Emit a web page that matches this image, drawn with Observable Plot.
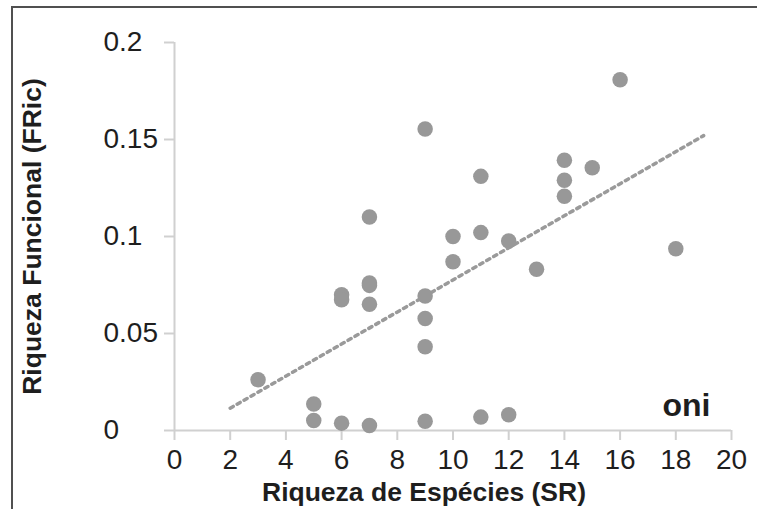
<!DOCTYPE html>
<html>
<head>
<meta charset="utf-8">
<script src="https://cdn.jsdelivr.net/npm/d3@7"></script>
<script src="https://cdn.jsdelivr.net/npm/@observablehq/plot@0.6"></script>
<style>
  html, body { margin: 0; padding: 0; background: #fff; overflow: hidden; }
  #wrap { position: relative; width: 757px; height: 509px; }
  #border { position: absolute; left: 11px; top: 6px; width: 800px; height: 600px;
            border-left: 2px solid #505050; border-top: 2px solid #505050; pointer-events: none; }
</style>
</head>
<body>
<div id="wrap"><div id="border"></div></div>
<script>
// Species richness (SR) and functional richness (FRic) for each sample
const sr   = [3, 5, 5, 6, 6, 6, 7, 7, 7, 7, 7, 9, 9, 9, 9, 9, 10, 10, 11, 11, 11, 12, 12, 13, 14, 14, 14, 15, 16, 18];
const fric = [0.0262, 0.0137, 0.0052, 0.0038, 0.0700, 0.0674, 0.1100, 0.0760, 0.0748, 0.0651, 0.0026,
              0.1554, 0.0693, 0.0577, 0.0432, 0.0048, 0.1000, 0.0870, 0.1310, 0.1020, 0.0069,
              0.0977, 0.0081, 0.0831, 0.1393, 0.1290, 0.1208, 0.1354, 0.1808, 0.0937];

// Linear trend line end points
const trendSR   = [2, 19];
const trendFRic = [0.0115, 0.152];

// Axis ticks
const xTicks = [0, 2, 4, 6, 8, 10, 12, 14, 16, 18, 20];
const yTicks = [0, 0.05, 0.1, 0.15, 0.2];
const yTickLabels = ["0", "0.05", "0.1", "0.15", "0.2"];

const xLabel = "Riqueza de Espécies (SR)";
const yLabel = "Riqueza Funcional (FRic)";
const panelLabel = "oni";

const points = sr.map((s, i) => ({sr: s, fric: fric[i]}));
const trend = trendSR.map((s, i) => ({sr: s, fric: trendFRic[i]}));

const axisGray = "#d0d0d0";
const textColor = "#1e1e1e";

const chart = Plot.plot({
  width: 757,
  height: 509,
  marginLeft: 174,
  marginRight: 26,
  marginTop: 42,
  marginBottom: 79,
  style: {fontFamily: "'Liberation Sans', Arial, sans-serif", fontSize: "28px", color: textColor, background: "transparent"},
  x: {domain: [0, 20]},
  y: {domain: [0, 0.2]},
  marks: [
    Plot.ruleY([0], {stroke: axisGray, strokeWidth: 2}),
    Plot.ruleX([0], {stroke: axisGray, strokeWidth: 2}),
    Plot.axisX({ticks: xTicks, tickSize: 10, tickPadding: 9, stroke: axisGray, strokeWidth: 2, fill: textColor, fontSize: 28, label: null, tickFormat: d => String(d)}),
    Plot.axisY({ticks: yTicks, tickSize: 10, tickPadding: 61, textAnchor: "start", stroke: axisGray, strokeWidth: 2, fill: textColor, fontSize: 28, label: null, tickFormat: d => yTickLabels[yTicks.indexOf(d)]}),
    Plot.line(trend, {x: "sr", y: "fric", stroke: "#9a9a9a", strokeWidth: 3.5, strokeDasharray: "3.5,4.5"}),
    Plot.dot(points, {x: "sr", y: "fric", r: 7.75, fill: "#989898", stroke: null}),
    Plot.text([xLabel], {frameAnchor: "bottom", textAnchor: "middle", lineAnchor: "middle", dx: -29, dy: 62, fontWeight: "bold", fontSize: 26.5, fill: textColor}),
    Plot.text([yLabel], {frameAnchor: "left", textAnchor: "middle", lineAnchor: "middle", rotate: -90, dx: -142, fontWeight: "bold", fontSize: 26.5, fill: textColor}),
    Plot.text([panelLabel], {frameAnchor: "bottom-right", textAnchor: "end", lineAnchor: "middle", dx: -21, dy: -25, fontWeight: "bold", fontSize: 32, fill: textColor})
  ]
});
document.getElementById("wrap").insertBefore(chart, document.getElementById("border"));
</script>
</body>
</html>
